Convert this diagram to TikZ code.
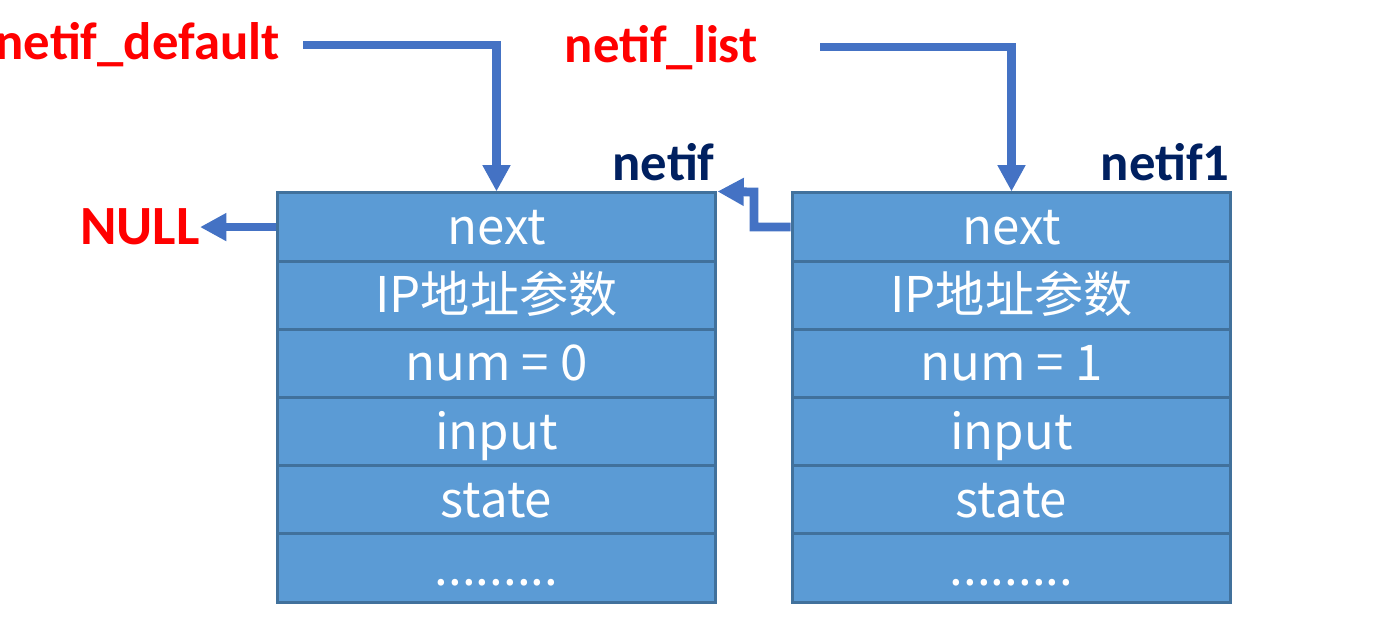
\documentclass[tikz,border=0pt]{standalone}
\usepackage{fontspec}
\usetikzlibrary{arrows.meta}
\newfontfamily\lblfont{Carlito}
\newfontfamily\cjkfont{Noto Sans CJK SC}
\definecolor{ptrblue}{HTML}{4472C4}
\definecolor{boxfill}{HTML}{5B9BD5}
\definecolor{boxline}{HTML}{41719C}
\definecolor{navy}{HTML}{002060}
\tikzset{>={Triangle[width=15pt,length=15pt]}}
\tikzset{
  field/.style={draw=boxline, line width=1.7pt, fill=boxfill, text=white,
    minimum width=8.78cm, minimum height=1.364cm, inner sep=0pt,
    font=\cjkfont\fontsize{28}{30}\selectfont, text height=20pt, text depth=0pt},
  ptr/.style={->, draw=ptrblue, line width=5pt},
  lbl/.style={inner sep=0pt, font=\lblfont\bfseries\fontsize{30}{34}\selectfont, anchor=base east}
}
\newcommand\dotrow{.........}

\begin{document}
\begin{tikzpicture}[x=0.02cm, y=-0.02cm]
  \useasboundingbox (0,0) rectangle (1400,631);
  % boxes
  \foreach \side/\cx/\idx in {l/496.5/0, r/1011.5/1} {
    \foreach \txt [count=\i] in {next, IP地址参数, num = \idx, input, state, \dotrow}
      \node[field] (\side\i) at (\cx, 158.9+68.17*\i) {\txt};
  }
  % labels
  \node[lbl, text=red] (dflt) at (280,60) {netif\_default};
  \node[lbl, text=red] (lst) at (758,63) {netif\_list};
  \node[lbl, text=red, scale=1.05] (null) at (200,245) {NULL};
  \node[lbl, text=navy] (nif0) at (715,181) {netif};
  \node[lbl, text=navy] (nif1) at (1230,181) {netif1};
  % pointers
  \coordinate (dfltout) at (303,45);
  \coordinate (lstout) at (820,47);
  \coordinate (bend) at (754,192);
  \draw[ptr] (dfltout) -| (l1.north);
  \draw[ptr] (lstout) -| (r1.north);
  \draw[ptr] (l1.west) -- (l1.west -| null.east);
  \draw[ptr] (r1.west) -| (bend) -- (l1.north east);
\end{tikzpicture}
\end{document}
